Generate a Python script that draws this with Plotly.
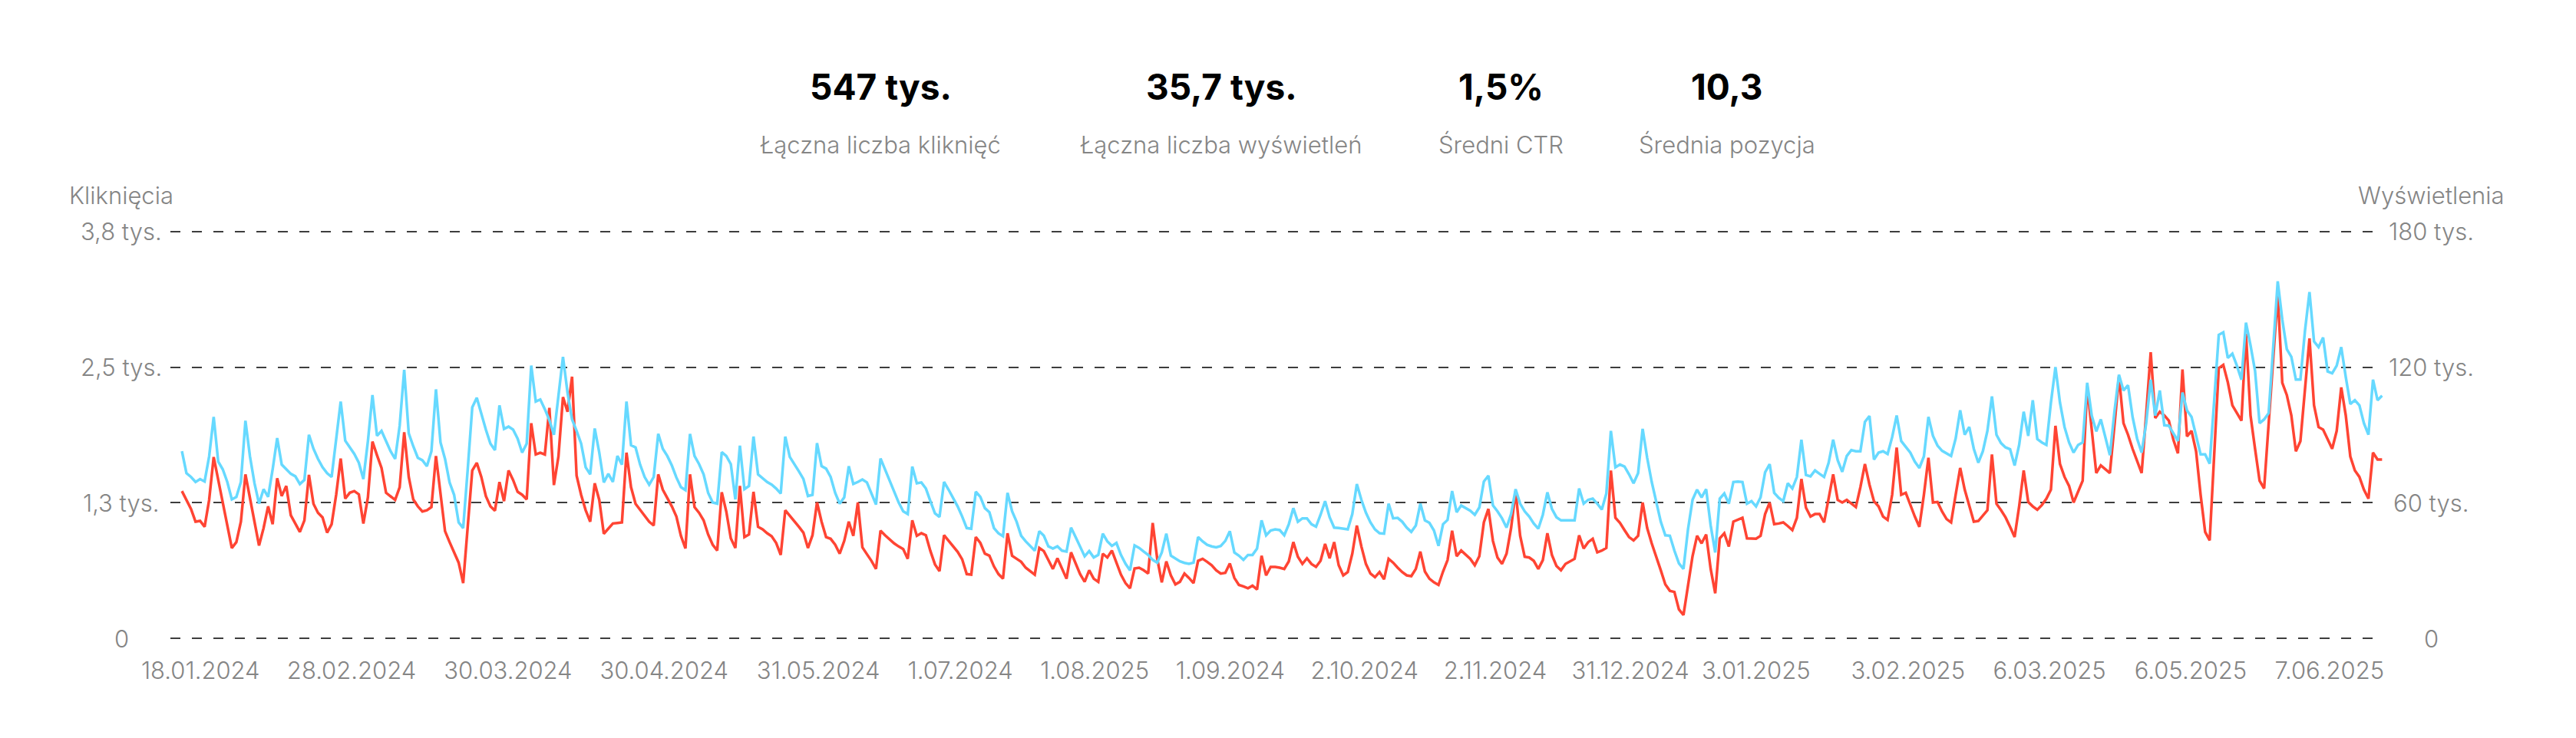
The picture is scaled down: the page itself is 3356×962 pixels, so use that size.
import plotly.graph_objects as go

# ---------------- data ----------------
# daily series (index = day number, 486 days)
impressions = [
 82800, 73100, 71400, 69200, 70500, 69400, 80500, 98000, 78200, 74800,
 69200, 61500, 62600, 69200, 96300, 80500, 68600, 59600, 66000, 62600,
 74800, 88600, 76900, 74800, 72800, 71700, 68300, 70100, 90100, 83900,
 79400, 75700, 73100, 71400, 87300, 104800, 87500, 84500, 81600, 77700,
 70500, 87300, 107700, 89600, 91800, 87300, 82800, 79400, 94100, 118800,
 90700, 85000, 79900, 78800, 76200, 82800, 110200, 86700, 79400, 69000,
 63500, 51300, 48800, 74800, 102200, 106500, 99200, 92400, 86200, 83300,
 103100, 92700, 93700, 92400, 88400, 82200, 86200, 120700, 104800, 105700,
 101400, 96600, 90100, 106500, 124600, 108800, 96900, 91800, 86200, 75700,
 72600, 92900, 82200, 69000, 72800, 69200, 80700, 76900, 104800, 85500,
 84500, 76900, 71400, 68000, 71400, 90500, 83900, 80700, 76500, 71200,
 66900, 65600, 90500, 80700, 77100, 72600, 64400, 60100, 59600, 82400,
 80700, 77100, 61500, 85300, 66000, 67400, 89300, 72600, 70900, 69200,
 68000, 66300, 64100, 89300, 80300, 77300, 73900, 70500, 63000, 63500,
 86400, 76200, 75100, 71400, 64400, 59600, 62400, 76200, 68300, 69200,
 70300, 69000, 63700, 59200, 79600, 74800, 69700, 64900, 60100, 56200,
 55000,
 76000, 68600, 69000, 66300, 60700, 55300, 53700, 69200, 65800, 62200,
 58400, 53900, 48800, 48500, 64900, 62600, 57600, 55800, 48800, 46500,
 45200, 64400, 56200, 51600, 45400, 42900, 40700, 38800, 47400, 45400,
 40700, 39700, 40700, 38800, 38400, 49000, 44800, 40700, 36300, 38600,
 35800, 36900, 46300, 42900, 40900, 42200, 36900, 33000, 30100, 41100,
 40000, 38400, 36900, 34700, 33500, 38000, 46300, 36600, 35200, 34100,
 33400, 33000, 33500, 44800, 42900, 41400, 40700, 40300, 40900, 43100,
 47400, 38000, 36600, 34700, 36900, 36900, 39700, 52200, 45600, 47700,
 48200, 47900, 45600, 50500, 57600, 51600, 53100, 53100, 50500, 49400,
 54700, 60700, 53600, 49000, 48800, 48500, 48200, 55000, 68300, 61300,
 55600, 51300, 48200, 46500, 46300, 59600, 53100, 53300, 51600, 49000,
 47100, 49900, 59600, 52200, 51100, 47700, 40900, 50500, 52400, 65200,
 55800, 58800, 57600, 56500, 54700, 57900, 69400, 72000, 58800, 56200,
 53100, 49000, 55000, 66000, 59600, 56200, 53900, 50800, 48500, 54700,
 64600, 57300, 53600, 52200, 52200, 52200, 52200, 66300, 59600, 61300,
 61800, 59600, 57000, 64100, 91800, 75700, 76900, 76000, 72600, 68600,
 73100,
 92700, 79900, 69200, 60100, 51600, 45600, 45400, 38800, 33200,
 30700, 48200, 61300, 65800, 62400, 66000, 49900, 38000, 61800, 64100,
 59600, 69200, 69400, 69200, 59600, 60700, 58400, 62400, 73500, 77100,
 64400, 62200, 60700, 68600, 66300, 71400, 87900, 72300, 71700, 74300,
 72800, 71400, 77700, 87900, 78800, 73700, 80700, 83300, 82800, 82800,
 95800, 98400, 79100, 82200, 82800, 81600, 89000, 98600, 87300, 84500,
 82200, 78200, 75400, 80500, 98000, 89600, 85300, 83000, 81900, 80700,
 88400, 100900, 90100, 93500, 83900, 77700, 82800, 91800, 107100, 90100,
 86400, 84500, 83700, 76500, 85600, 100300, 89600, 105400, 88200, 86700,
 85600, 104300, 120100, 104300, 93500, 86700, 82200, 85600, 86700, 113100,
 98600, 91600, 96900, 88600, 81100, 100300, 116700, 109700, 112000, 98000,
 88400, 82200, 95200, 114500, 98600, 109700, 94300, 94100, 90700, 87300,
 108800, 100900, 98000, 89600, 81400, 81400, 77300, 105400, 134300, 135400,
 124100, 126000, 120700, 114500, 139700, 129700, 118400, 95200, 96900, 99700,
 129200, 158000, 141100, 128000, 124600, 114500, 114500, 136000, 153300, 131400,
 128900, 133100, 118100, 117300, 120700, 128900, 115600, 103700, 105400, 103100,
 95200, 90100, 114500, 105400, 107400,
]

clicks = [
 1376, 1293, 1209, 1090, 1097, 1042, 1293, 1694, 1484, 1281,
 1054, 844, 899, 1090, 1532, 1305, 1066, 867, 1030, 1233,
 1066, 1496, 1329, 1424, 1150, 1066, 994, 1102, 1527, 1257,
 1173, 1130, 987, 1066, 1341, 1680, 1305, 1360, 1376, 1345,
 1073, 1317, 1838, 1711, 1592, 1360, 1329, 1293, 1412, 1926,
 1508, 1298, 1233, 1185, 1197, 1226, 1704, 1365, 1001, 899,
 803, 707, 516, 1030, 1568, 1639, 1508, 1329, 1233, 1193,
 1460, 1281, 1568, 1479, 1369, 1341, 1298, 2010, 1718, 1735,
 1718, 2153, 1432, 1699, 2254, 2117, 2445, 1520, 1341, 1197,
 1090, 1448, 1293, 977, 1025, 1073, 1078, 1083, 1735, 1412,
 1257, 1204, 1150, 1090, 1054, 1532, 1389, 1317, 1233, 1138,
 958, 839, 1532, 1226, 1173, 1102, 970, 875, 820, 1365,
 1185, 934, 844, 1424, 946, 970, 1369, 1042, 1018, 982,
 953, 891, 779, 1197, 1145, 1102, 1042, 987, 844, 963,
 1269, 1090, 946, 930, 875, 791, 910, 1090, 958, 1269,
 851, 786, 724, 648, 1006, 963, 922, 887, 858, 834,
 743,
 1102, 958, 982, 963, 815, 691, 628, 963, 910, 863,
 808, 738, 600, 595, 946, 891, 791, 772, 672, 600,
 557, 982, 772, 743, 715, 660, 624, 595, 844, 815,
 731, 648, 748, 648, 557, 803, 695, 600, 528, 636,
 557, 528, 791, 755, 820, 700, 595, 516, 468, 652,
 660, 636, 605, 1078, 743, 523, 719, 588, 504, 528,
 605, 564, 516, 724, 743, 715, 683, 636, 605, 612,
 700, 564, 499, 485, 468, 492, 456, 772, 588, 667,
 667, 660, 648, 719, 899, 762, 695, 748, 695, 667,
 724, 882, 748, 899, 683, 588, 619, 791, 1054, 858,
 695, 605, 571, 619, 552, 743, 707, 660, 619, 588,
 581, 648, 810, 624, 557, 523, 499, 624, 731, 1006,
 767, 820, 779, 743, 683, 767, 1083, 1209, 910, 755,
 695, 791, 1030, 1376, 958, 762, 755, 724, 648, 731,
 982, 779, 676, 636, 695, 719, 743, 963, 839, 899,
 930, 803, 820, 844, 1568, 1126, 1078, 1011, 946, 915,
 958,
 1269, 1030, 887, 767, 636, 504, 444, 433, 270,
 217, 492, 767, 958, 887, 970, 648, 421, 934, 982,
 858, 1090, 1106, 1126, 934, 930, 930, 958, 1161, 1269,
 1066, 1073, 1083, 1049, 1011, 1126, 1489, 1221, 1138, 1161,
 1161, 1083, 1317, 1532, 1293, 1269, 1293, 1257, 1226, 1412,
 1628, 1436, 1281, 1233, 1138, 1106, 1341, 1783, 1341, 1360,
 1245, 1138, 1042, 1341, 1687, 1269, 1274, 1185, 1114, 1083,
 1341, 1592, 1389, 1233, 1090, 1097, 1150, 1197, 1718, 1257,
 1197, 1130, 1042, 946, 1233, 1568, 1274, 1233, 1202, 1245,
 1305, 1389, 1986, 1628, 1508, 1424, 1269, 1365, 1472, 2356,
 1938, 1544, 1616, 1580, 1544, 1986, 2445, 2010, 1902, 1771,
 1663, 1544, 2094, 2674, 2058, 2117, 2082, 2034, 1855, 1728,
 2512, 1886, 1938, 1747, 1341, 994, 915, 1747, 2524, 2555,
 2392, 2177, 2106, 2034, 2846, 2082, 1771, 1472, 1400, 1986,
 2584, 3217, 2388, 2273, 2082, 1747, 1843, 2345, 2803, 2177,
 1974, 1950, 1855, 1771, 1938, 2345, 2082, 1699, 1568, 1508,
 1389, 1305, 1735, 1671, 1671,
]

days = list(range(len(clicks)))

x_tick_days = [4.1, 37.4, 71.9, 106.3, 140.3, 171.6, 201.2, 231.1,
               260.7, 289.5, 319.3, 347.0, 380.5, 411.7, 442.8, 473.4]
x_tick_labels = ["18.01.2024", "28.02.2024", "30.03.2024", "30.04.2024",
                 "31.05.2024", "1.07.2024", "1.08.2025", "1.09.2024",
                 "2.10.2024", "2.11.2024", "31.12.2024", "3.01.2025",
                 "3.02.2025", "6.03.2025", "6.05.2025", "7.06.2025"]

left_ticks = [0, 3800 / 3, 2 * 3800 / 3, 3800]
left_labels = ["0", "1,3 tys.", "2,5 tys.", "3,8 tys."]
right_ticks = [0, 60000, 120000, 180000]
right_labels = ["0", "60 tys.", "120 tys.", "180 tys."]

kpi_values = ["547 tys.", "35,7 tys.", "1,5%", "10,3"]
kpi_labels = ["Łączna liczba kliknięć", "Łączna liczba wyświetleń",
              "Średni CTR", "Średnia pozycja"]

left_title = "Kliknięcia"
right_title = "Wyświetlenia"

# ---------------- layout geometry (page pixels) ----------------
OFF = 8                      # default body margin of the html page
W, H = 3356 - 2 * OFF, 962 - 2 * OFF
PL, PR, PT, PB = 222, 3105, 288, 846   # plot area box in page pixels
YMAX_L = 3800
YPAD = 100


def px_x(px):
    return (px - PL) / (PR - PL)


def px_y(py):
    return (PB - py) / (PB - PT)


FONT = "Inter"
GREY = "#858585"
BLUE = "#66D9FF"
RED = "#FF4433"
LBL = 31

fig = go.Figure()
fig.add_trace(go.Scatter(x=days, y=impressions, yaxis="y2", mode="lines",
                         line=dict(color=BLUE, width=3.5), name=right_title,
                         hoverinfo="skip"))
fig.add_trace(go.Scatter(x=days, y=clicks, yaxis="y", mode="lines",
                         line=dict(color=RED, width=3.5), name=left_title,
                         hoverinfo="skip"))

x0 = -2.54
x1 = 485.28
ratio = right_ticks[-1] / left_ticks[-1]

lbl_font = dict(family=FONT, size=LBL, color=GREY, weight=300)

annotations = []
for v, t in zip(left_ticks, left_labels):
    annotations.append(dict(x=px_x(158), xref="paper", y=v, yref="y", text=t,
                            showarrow=False, xanchor="center", yanchor="middle",
                            font=lbl_font))
for v, t in zip(right_ticks, right_labels):
    annotations.append(dict(x=px_x(3167), xref="paper", y=v, yref="y2", text=t,
                            showarrow=False, xanchor="center", yanchor="middle",
                            font=lbl_font))
annotations.append(dict(x=px_x(158), xref="paper", y=px_y(254), yref="paper",
                        text=left_title, showarrow=False, xanchor="center",
                        yanchor="middle", font=lbl_font))
annotations.append(dict(x=px_x(3167), xref="paper", y=px_y(254), yref="paper",
                        text=right_title, showarrow=False, xanchor="center",
                        yanchor="middle", font=lbl_font))

kpi_x = [1147, 1591, 1956, 2250]
for cx, val, lab in zip(kpi_x, kpi_values, kpi_labels):
    annotations.append(dict(x=px_x(cx), xref="paper", y=px_y(113), yref="paper",
                            text="<b>" + val + "</b>", showarrow=False,
                            xanchor="center", yanchor="middle",
                            font=dict(family=FONT, size=46, color="#000000")))
    annotations.append(dict(x=px_x(cx), xref="paper", y=px_y(188), yref="paper",
                            text=lab, showarrow=False,
                            xanchor="center", yanchor="middle",
                            font=lbl_font))

fig.update_layout(
    width=W, height=H,
    margin=dict(l=PL - OFF, r=(W + OFF) - PR, t=PT - OFF, b=(H + OFF) - PB, pad=0),
    paper_bgcolor="white", plot_bgcolor="white",
    showlegend=False,
    hovermode=False,
    xaxis=dict(range=[x0, x1], tickvals=x_tick_days, ticktext=x_tick_labels,
               tickangle=0, showgrid=False, zeroline=False, showline=False,
               ticks="", ticklabelstandoff=7,
               tickfont=lbl_font),
    yaxis=dict(range=[-YPAD, YMAX_L + YPAD], tickvals=left_ticks,
               showticklabels=False, showgrid=True, gridcolor="#3d3d3d",
               gridwidth=2, griddash="13px,15px", zeroline=False,
               showline=False, ticks=""),
    yaxis2=dict(range=[-YPAD * ratio, (YMAX_L + YPAD) * ratio], overlaying="y",
                side="right", tickvals=right_ticks, showticklabels=False,
                showgrid=False, zeroline=False, showline=False, ticks=""),
    annotations=annotations,
)

fig.write_html("out.html")
